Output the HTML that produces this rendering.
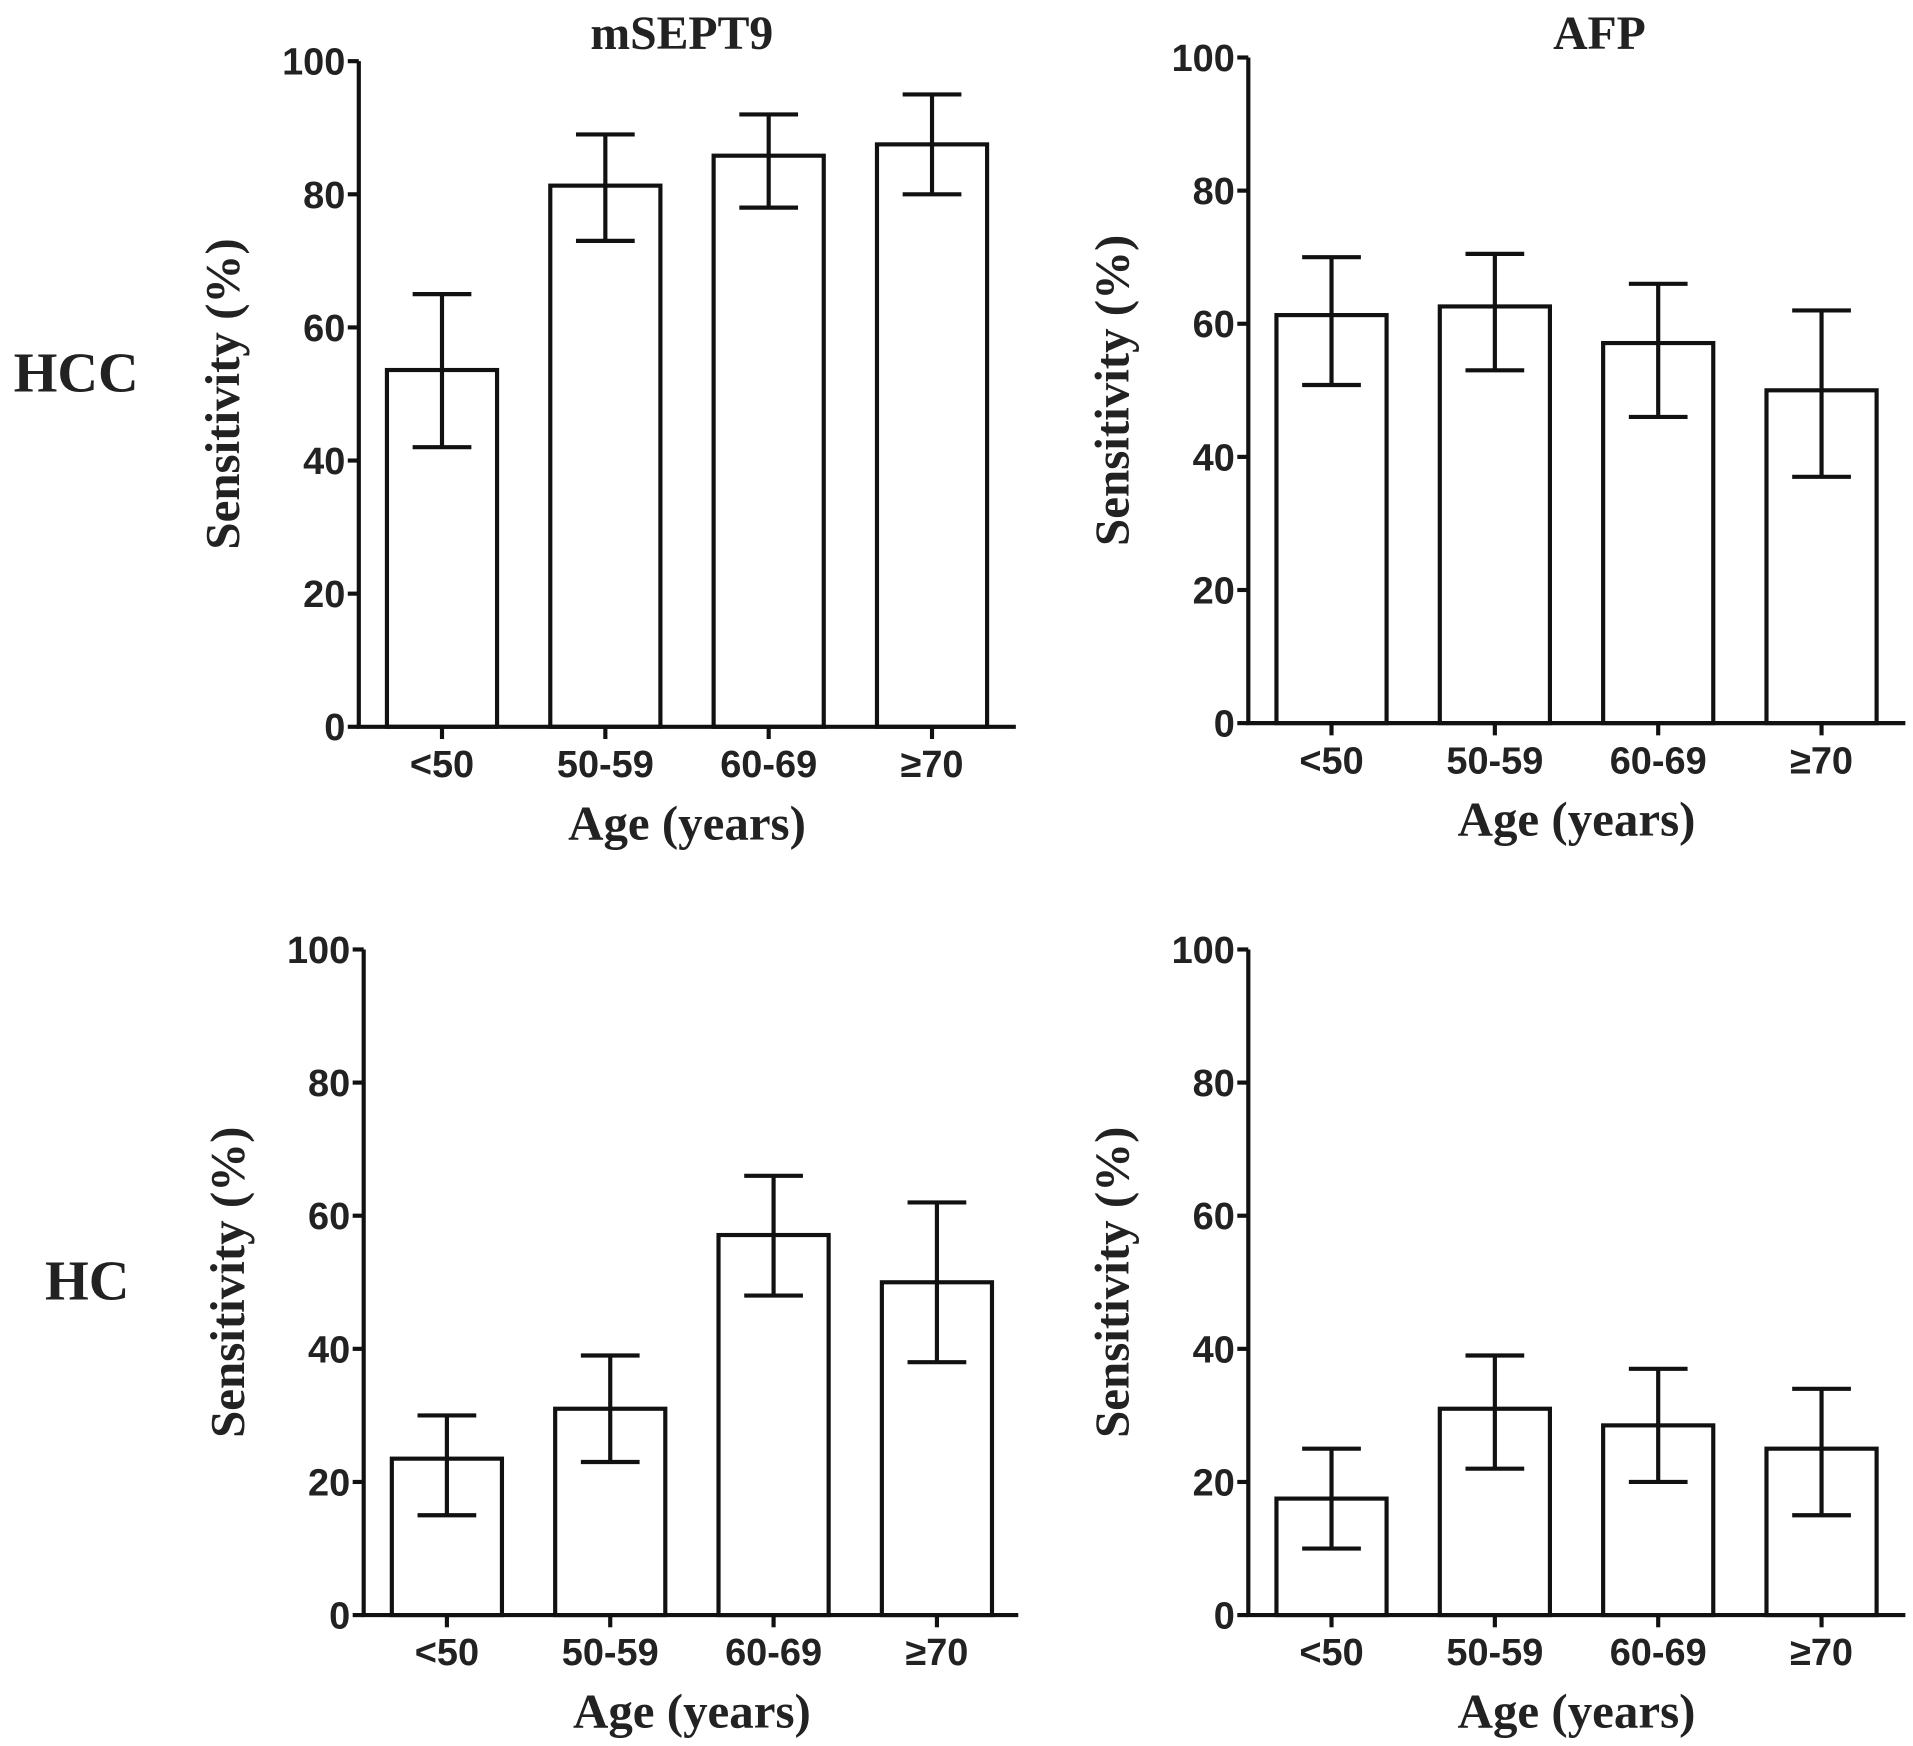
<!DOCTYPE html>
<html><head><meta charset="utf-8"><style>
html,body{margin:0;padding:0;background:#fff;}
svg{display:block;}
.tick{font-family:"Liberation Sans",Arial,sans-serif;font-weight:bold;font-size:31px;fill:#222;}
.ttl{font-family:"Liberation Serif",serif;font-weight:bold;font-size:40px;fill:#222;}
</style></head><body>
<svg id="chart" width="1913" height="1746" viewBox="0 0 1563 1427" xmlns="http://www.w3.org/2000/svg">
<text class="ttl" x="557" y="40" text-anchor="middle" style="font-size:39px">mSEPT9</text>
<text class="ttl" x="1307" y="40" text-anchor="middle" style="font-size:39px">AFP</text>
<text class="ttl" x="62" y="320" text-anchor="middle" style="font-size:46px">HCC</text>
<text class="ttl" x="71" y="1062" text-anchor="middle" style="font-size:46px">HC</text>
</svg>
<script>
const categories = ["<50", "50-59", "60-69", "≥70"];
const yTicks = [0, 20, 40, 60, 80, 100];
const septHccValues = [53.6, 81.3, 85.8, 87.5];
const septHccLow = [42, 73, 78, 80];
const septHccHigh = [65, 89, 92, 95];
const afpHccValues = [61.3, 62.6, 57.1, 50];
const afpHccLow = [50.8, 53, 46, 37];
const afpHccHigh = [70, 70.5, 66, 62];
const septHcValues = [23.5, 31, 57.1, 50];
const septHcLow = [15, 23, 48, 38];
const septHcHigh = [30, 39, 66, 62];
const afpHcValues = [17.5, 31, 28.5, 25];
const afpHcLow = [10, 22, 20, 15];
const afpHcHigh = [25, 39, 37, 34];

const NS = "http://www.w3.org/2000/svg";
const svg = document.getElementById('chart');
function mk(tag, attrs, parent) {
  const e = document.createElementNS(NS, tag);
  for (const k in attrs) e.setAttribute(k, attrs[k]);
  (parent || svg).appendChild(e);
  return e;
}
function panel(name, ax, y0, y100, firstCenter, vals, lo, hi, xEnd) {
  const g = mk('g', {});
  
  
  const yS = v => y0 - (y0 - y100) * v / 100;
  const step = 133.5;
  const xS = i => firstCenter + i * step;
  const st = {stroke: '#111', 'stroke-width': 3.4, fill: 'none'};
  vals.forEach((v, i) => {
    const r = mk('rect', {x: xS(i) - 45, y: yS(v), width: 90, height: y0 - yS(v), fill: '#fff', stroke: '#111', 'stroke-width': 3.4}, g);
    
    
    const eb = mk('path', Object.assign({d: `M${xS(i)},${yS(lo[i])}V${yS(hi[i])}M${xS(i) - 24},${yS(hi[i])}H${xS(i) + 24}M${xS(i) - 24},${yS(lo[i])}H${xS(i) + 24}`}, st), g);
    
    
  });
  const axes = mk('path', Object.assign({d: `M${ax},${y100}V${y0}H${xEnd}`}, st), g);
  
  
  yTicks.forEach(t => {
    mk('line', Object.assign({x1: ax - 9, x2: ax, y1: yS(t), y2: yS(t)}, st), g);
    const tx = mk('text', {x: ax - 11, y: yS(t) + 11, 'text-anchor': 'end', class: 'tick'}, g);
    tx.textContent = t;
    
    
  });
  categories.forEach((c, i) => {
    mk('line', Object.assign({x1: xS(i), x2: xS(i), y1: y0, y2: y0 + 10}, st), g);
    const tx = mk('text', {x: xS(i), y: y0 + 41, 'text-anchor': 'middle', class: 'tick'}, g);
    tx.textContent = c;
    
    
  });
  const xt = mk('text', {x: (firstCenter + xS(3)) / 2, y: y0 + 92, 'text-anchor': 'middle', class: 'ttl'}, g);
  xt.textContent = 'Age (years)';
  
  
  const cy = (y0 + y100) / 2;
  const yt = mk('text', {x: 0, y: 0, 'text-anchor': 'middle', class: 'ttl', transform: `translate(${ax - 98},${cy}) rotate(-90)`}, g);
  yt.textContent = 'Sensitivity (%)';
  
  
}
panel('mseptin9-hcc', 293, 594, 50, 361, septHccValues, septHccLow, septHccHigh, 830);
panel('afp-hcc', 1020, 591, 47, 1088, afpHccValues, afpHccLow, afpHccHigh, 1557);
panel('mseptin9-hc', 297, 1320, 776, 365, septHcValues, septHcLow, septHcHigh, 832);
panel('afp-hc', 1020, 1320, 776, 1088, afpHcValues, afpHcLow, afpHcHigh, 1557);
</script>
</body></html>
